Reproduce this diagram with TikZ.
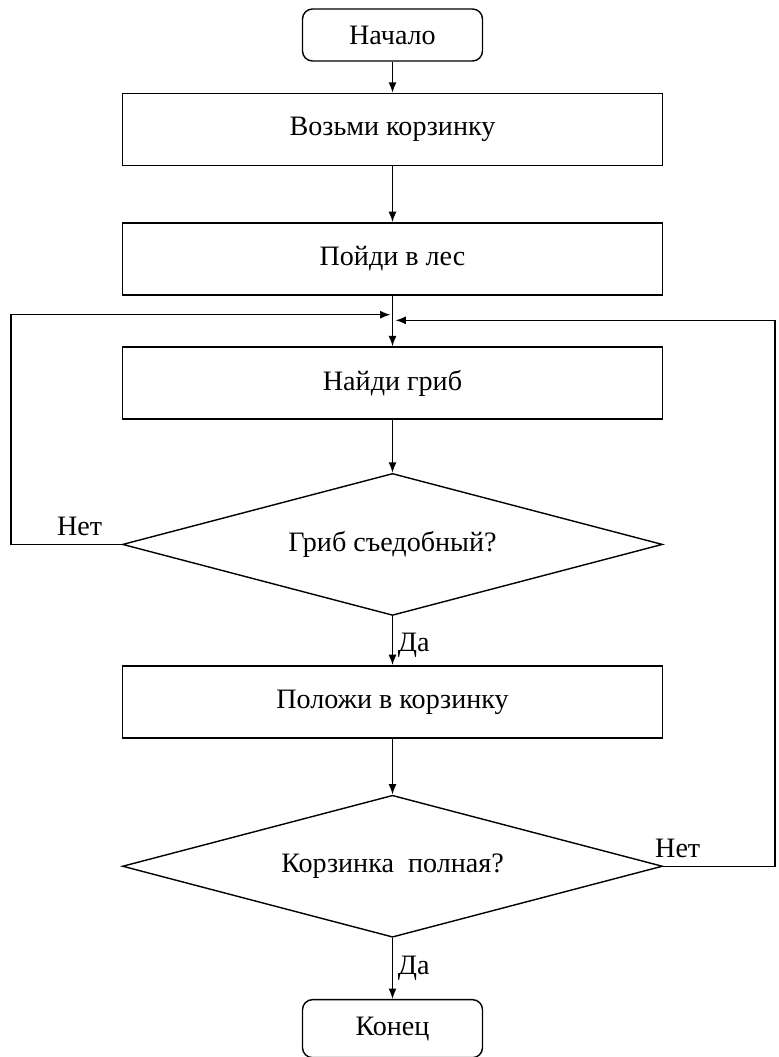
\documentclass[tikz,border=0pt]{standalone}
\usepackage{fontspec}
\setmainfont{Liberation Serif}
\newfontfamily\chartfont{Liberation Serif}
\usetikzlibrary{arrows.meta,positioning,shapes.geometric}
\begin{document}
\begin{tikzpicture}[
        node distance=1.4cm,
        font=\chartfont\fontsize{20}{23}\selectfont,
        box/.style={rectangle, draw, line width=1pt, minimum width=13.5cm, minimum height=1.8cm, align=center},
        term/.style={rectangle, draw, line width=1pt, rounded corners=0.25cm, minimum width=4.5cm, minimum height=1.3cm},
        check/.style={diamond, draw, line width=1pt, shape aspect=3.8, minimum width=13.5cm, minimum height=3.55cm, inner sep=0pt},
        arr/.style={-{Latex[length=2.6mm,width=2mm]}, line width=1pt}
    ]
        \useasboundingbox (0,0) rectangle (19.45,-26.425);
        \node[term] (start) at (9.8125,-0.875) {Начало};
        \node[box, below=0.775cm of start] (take) {Возьми корзинку};
        \node[box, below=1.4cm of take] (go) {Пойди в лес};
        \node[box, below=1.27cm of go] (find) {Найди гриб};
        \node[check, below=1.325cm of find] (edible) {Гриб съедобный?};
        \node[box, below=1.225cm of edible] (put) {Положи в корзинку};
        \node[check, below=1.4cm of put] (full) {Корзинка\ \ полная?};
        \node[term, minimum height=1.45cm, below=1.525cm of full] (finish) {Конец};

        \coordinate (railL) at (0.275,0);
        \coordinate (railR) at (19.375,0);
        \coordinate[below=0.48cm of go.south, xshift=-0.05cm] (mergeL);
        \coordinate[below=0.62cm of go.south, xshift=0.075cm] (mergeR);

        \draw[arr] (start) -- (take);
        \draw[arr] (take) -- (go);
        \draw[arr] (go) -- (find);
        \draw[arr] (find) -- (edible);
        \draw[arr] (edible) -- node[right, pos=0.6] {Да} (put);
        \draw[arr] (put) -- (full);
        \draw[arr] (full) -- node[right, pos=0.5] {Да} (finish);
        \draw[arr] (edible.west) -- node[above, pos=0.38, yshift=2pt] {Нет} (edible.west -| railL) |- (mergeL);
        \draw[arr] (full.east) -- node[above, pos=0.13, yshift=2pt] {Нет} (full.east -| railR) |- (mergeR);
    \end{tikzpicture}
\end{document}
